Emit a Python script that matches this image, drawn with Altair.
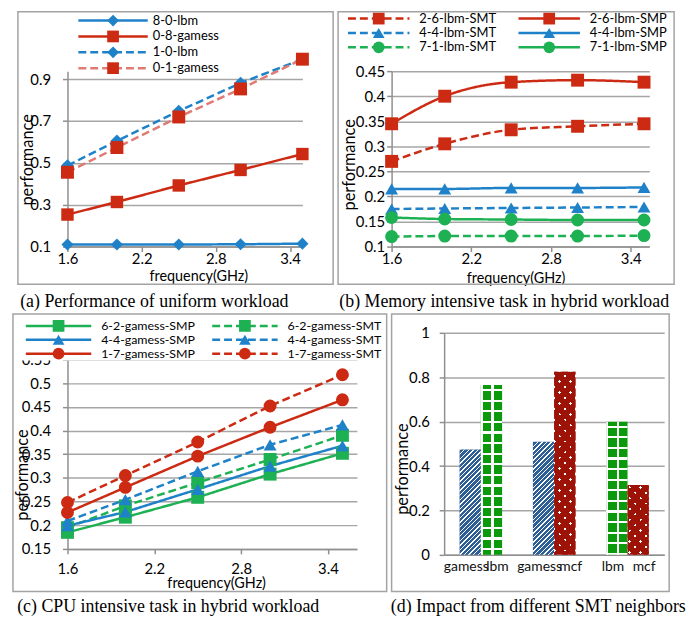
import math
import altair as alt
import pandas as pd

FONT = "Lato"
SERIF = "Liberation Serif"
GRID_C = "#a6a6a6"
AXIS_C = "#8f8f8f"
FRAME_C = "#a3a3a3"
BLUE = "#1f82c9"
RED = "#cc2a12"
PINK = "#e07b74"
GREEN = "#1eb153"
BAR_BLUE = "#2d5e96"
BAR_GREEN = "#0b9a0b"
BAR_RED = "#9e1308"
CLEAR = "rgba(255,255,255,0)"
SOLID = [1, 0]
DASH = [8, 4]

freq = [1.6, 2.0, 2.5, 3.0, 3.5]
freq_ticks = [1.6, 2.2, 2.8, 3.4]

# ---------------- (a) uniform workload ----------------
a_names = ["8-0-lbm", "0-8-gamess", "1-0-lbm", "0-1-gamess"]
a_8_0_lbm = [0.110, 0.110, 0.110, 0.111, 0.114]
a_0_8_gamess = [0.253, 0.313, 0.392, 0.466, 0.542]
a_1_0_lbm = [0.487, 0.605, 0.747, 0.881, 0.995]
a_0_1_gamess = [0.455, 0.573, 0.719, 0.853, 0.995]
a_yticks = [0.1, 0.3, 0.5, 0.7, 0.9]
a_leg_col = [0, 0, 0, 0]
a_leg_row = [0, 1, 2, 3]

# ---------------- (b) memory intensive task ----------------
b_names = ["2-6-lbm-SMT", "2-6-lbm-SMP", "4-4-lbm-SMT", "4-4-lbm-SMP", "7-1-lbm-SMT", "7-1-lbm-SMP"]
b_2_6_smt = [0.270, 0.305, 0.333, 0.340, 0.345]
b_2_6_smp = [0.345, 0.400, 0.428, 0.432, 0.428]
b_4_4_smt = [0.175, 0.176, 0.177, 0.178, 0.179]
b_4_4_smp = [0.215, 0.215, 0.217, 0.217, 0.218]
b_7_1_smt = [0.120, 0.121, 0.121, 0.121, 0.122]
b_7_1_smp = [0.158, 0.155, 0.154, 0.153, 0.153]
b_yticks = [0.1, 0.15, 0.2, 0.25, 0.3, 0.35, 0.4, 0.45]
b_leg_col = [0, 1, 0, 1, 0, 1]
b_leg_row = [0, 0, 1, 1, 2, 2]

# ---------------- (c) CPU intensive task ----------------
c_names = ["6-2-gamess-SMP", "6-2-gamess-SMT", "4-4-gamess-SMP", "4-4-gamess-SMT", "1-7-gamess-SMP", "1-7-gamess-SMT"]
c_6_2_smp = [0.185, 0.217, 0.259, 0.308, 0.352]
c_6_2_smt = [0.195, 0.241, 0.290, 0.339, 0.390]
c_4_4_smp = [0.199, 0.228, 0.276, 0.325, 0.368]
c_4_4_smt = [0.209, 0.254, 0.314, 0.370, 0.412]
c_1_7_smp = [0.227, 0.280, 0.346, 0.407, 0.465]
c_1_7_smt = [0.248, 0.305, 0.376, 0.452, 0.518]
c_yticks = [0.15, 0.2, 0.25, 0.3, 0.35, 0.4, 0.45, 0.5, 0.55]
c_leg_col = [0, 1, 0, 1, 0, 1]
c_leg_row = [0, 0, 1, 1, 2, 2]

# ---------------- (d) SMT neighbours ----------------
d_groups = ["g1", "g1", "g2", "g2", "g3", "g3"]
d_slots = ["0", "1", "0", "1", "0", "1"]
d_labels = ["gamess", "lbm", "gamess", "mcf", "lbm", "mcf"]
d_values = [0.475, 0.765, 0.510, 0.825, 0.600, 0.315]
d_yticks = [0, 0.2, 0.4, 0.6, 0.8, 1.0]

INDEP = dict(stroke="independent", fill="independent", shape="independent",
             strokeDash="independent", size="independent")


def series_df(names, vals):
    rows = []
    for n, vs in zip(names, vals):
        for f, v in zip(freq, vs):
            rows.append({"series": n, "freq": f, "perf": v})
    return pd.DataFrame(rows)


def one_row():
    return pd.DataFrame({"k": [0]})


def frame_layer(x1, x2, y1, y2):
    return alt.Chart(one_row()).mark_rect(
        fill="white", fillOpacity=0, stroke=FRAME_C, strokeWidth=1.5
    ).encode(x=alt.value(x1), x2=alt.value(x2), y=alt.value(y1), y2=alt.value(y2))


def caption(text, dx, offset):
    return alt.TitleParams(
        text=text, orient="bottom", anchor="start", frame="bounds", dx=dx, offset=offset,
        font=SERIF, fontSize=18, fontWeight="normal", color="black",
    )


def line_panel(names, vals, strokes, fills, dashes, shapes, sizes, W, H, xdom, ydom,
               yticks, yfmt, ylabpad, xlabpad, xtitle, ytitle, leg_col, leg_row,
               leg_xr, leg_yr, leg_len, leg_dx, leg_fs, frame, cap, cap_dx, cap_off,
               interp="linear", leg_bg=None):
    df = series_df(names, vals)
    x_enc = alt.X(
        "freq:Q", scale=alt.Scale(domain=xdom, nice=False, zero=False),
        axis=alt.Axis(values=freq_ticks, format=".1f", grid=False, labelFlush=False,
                      labelPadding=xlabpad, labelBaseline="middle", labelFontSize=15,
                      title="frequency(GHz)", titleX=xtitle[0], titleY=xtitle[1],
                      titleBaseline="middle", titleAlign="center", titleFontSize=14.5),
    )
    y_enc = alt.Y(
        "perf:Q", scale=alt.Scale(domain=ydom, nice=False, zero=False),
        axis=alt.Axis(values=yticks, format=yfmt, grid=True, labelFlush=False,
                      labelPadding=ylabpad, labelFontSize=15,
                      title="performance", titleX=ytitle[0], titleY=ytitle[1],
                      titleAngle=270, titleBaseline="middle", titleAlign="center",
                      titleFontSize=16.5),
    )
    stroke_s = alt.Scale(domain=names, range=strokes)
    fill_s = alt.Scale(domain=names, range=fills)
    dash_s = alt.Scale(domain=names, range=dashes)
    shape_s = alt.Scale(domain=names, range=shapes)
    size_s = alt.Scale(domain=names, range=sizes)

    lines = alt.Chart(df).mark_line(strokeWidth=2.5, interpolate=interp).encode(
        x=x_enc, y=y_enc,
        stroke=alt.Stroke("series:N", scale=stroke_s, legend=None),
        strokeDash=alt.StrokeDash("series:N", scale=dash_s, legend=None),
    )
    points = alt.Chart(df).mark_point(filled=True, opacity=1, strokeWidth=0).encode(
        x=x_enc, y=y_enc,
        fill=alt.Fill("series:N", scale=fill_s, legend=None),
        shape=alt.Shape("series:N", scale=shape_s, legend=None),
        size=alt.Size("series:N", scale=size_s, legend=None),
    )
    data_layer = alt.layer(lines, points)

    leg_df = pd.DataFrame({"series": names, "col": leg_col, "row": leg_row})
    nrow = max(leg_row)
    lx = alt.X("col:Q", scale=alt.Scale(domain=[0, 1], range=leg_xr, nice=False, zero=False), axis=None)
    ly = alt.Y("row:Q", scale=alt.Scale(domain=[0, nrow], range=leg_yr, nice=False, zero=False), axis=None)
    l_rule = alt.Chart(leg_df).mark_rule(strokeWidth=2.5, x2Offset=leg_len).encode(
        x=lx, x2=alt.X2("col:Q"), y=ly,
        stroke=alt.Stroke("series:N", scale=stroke_s, legend=None),
        strokeDash=alt.StrokeDash("series:N", scale=dash_s, legend=None),
    )
    l_pt = alt.Chart(leg_df).mark_point(filled=True, opacity=1, strokeWidth=0, size=140,
                                        xOffset=leg_len / 2).encode(
        x=lx, y=ly,
        fill=alt.Fill("series:N", scale=fill_s, legend=None),
        shape=alt.Shape("series:N", scale=shape_s, legend=None),
    )
    l_txt = alt.Chart(leg_df).mark_text(align="left", baseline="middle", dx=leg_dx,
                                        font=FONT, fontSize=leg_fs, color="black").encode(
        x=lx, y=ly, text="series:N",
    )
    legend_layer = alt.layer(l_rule, l_pt, l_txt)

    parts = [frame_layer(*frame), data_layer]
    if leg_bg is not None:
        parts.append(
            alt.Chart(one_row()).mark_rect(fill="white", strokeWidth=0).encode(
                x=alt.value(leg_bg[0]), x2=alt.value(leg_bg[1]),
                y=alt.value(leg_bg[2]), y2=alt.value(leg_bg[3]))
        )
    parts.append(legend_layer)
    return alt.layer(*parts).resolve_scale(x="independent", y="independent").properties(
        width=W, height=H, title=caption(cap, cap_dx, cap_off)
    )


# row 1 shares a plot-area top (y=68 on the page); row 2 shares y=329
A = line_panel(
    a_names, [a_8_0_lbm, a_0_8_gamess, a_1_0_lbm, a_0_1_gamess],
    [BLUE, RED, BLUE, PINK], [BLUE, RED, BLUE, RED], [SOLID, SOLID, DASH, DASH],
    ["diamond", "square", "diamond", "square"], [150, 170, 150, 170],
    237, 177, [1.6, 3.5], [0.1, 0.9 + 8 / 211.25], a_yticks, ".1f", 12, 7, (132, 30), (-40, 89),
    a_leg_col, a_leg_row, [11, 200], [-51, -3], 70, 75, 13,
    (-50, 268, -60, 215), "(a) Performance of uniform workload", 3, 8,
)

B = line_panel(
    b_names, [b_2_6_smt, b_2_6_smp, b_4_4_smt, b_4_4_smp, b_7_1_smt, b_7_1_smp],
    [RED, RED, BLUE, BLUE, GREEN, GREEN], [RED, RED, BLUE, BLUE, GREEN, GREEN],
    [DASH, SOLID, DASH, SOLID, DASH, SOLID],
    ["square", "square", "triangle-up", "triangle-up", "circle", "circle"],
    [170, 170, 170, 170, 200, 200],
    260, 177, [1.6, 3.54], [0.1, 0.45], b_yticks, ".2~f", 2, 7, (125, 32), (-42, 94),
    b_leg_col, b_leg_row, [-44, 128], [-53, -24], 62, 72, 13,
    (-54, 285, -60, 215), "(b) Memory intensive task in hybrid workload", 2, 8,
    interp="monotone",
)

C = line_panel(
    c_names, [c_6_2_smp, c_6_2_smt, c_4_4_smp, c_4_4_smt, c_1_7_smp, c_1_7_smt],
    [GREEN, GREEN, BLUE, BLUE, RED, RED], [GREEN, GREEN, BLUE, BLUE, RED, RED],
    [SOLID, DASH, SOLID, DASH, SOLID, DASH],
    ["square", "square", "triangle-up", "triangle-up", "circle", "circle"],
    [170, 170, 170, 170, 200, 200],
    292, 218, [1.6, 3.6], [0.15, 0.15 + 218 / 477.5], c_yticks, ".2~f", 12, 15, (150, 35), (-45, 143),
    c_leg_col, c_leg_row, [-42, 146], [-7, 21], 66, 76, 12.5,
    (-55, 322, -19, 261), "(c) CPU intensive task in hybrid workload", 5, 6,
    leg_bg=(-53, 320, -18, 28),
)

# ---------------- (d) patterned bars ----------------
W_D, H_D = 222, 224
PI, PO = 0.42, 0.21
step = W_D / (3 - PI + 2 * PO)
bar_w = step * (1 - PI) / 2

d_df = pd.DataFrame({"idx": list(range(6)), "grp": d_groups, "slot": d_slots,
                     "label": d_labels, "value": d_values})

x_d = alt.X("grp:N", scale=alt.Scale(domain=["g1", "g2", "g3"], paddingInner=PI, paddingOuter=PO),
            axis=alt.Axis(labels=False, ticks=False, title=None, grid=False))
xo_d = alt.XOffset("slot:N", scale=alt.Scale(domain=["0", "1"], paddingInner=0, paddingOuter=0))
y_d = alt.Y("value:Q", scale=alt.Scale(domain=[0, 1], nice=False),
            axis=alt.Axis(values=d_yticks, format="~g", grid=True, labelPadding=10, labelFontSize=15,
                          title="performance", titleX=-42, titleY=137, titleAngle=270,
                          titleBaseline="middle", titleAlign="center", titleFontSize=16.5))


def stripe_stops(total, period, gap, main, gapc, phase=0.0):
    stops = [(0.0, main)]
    k = math.floor((-phase - gap) / period)
    while True:
        a = phase + k * period
        b = a + gap
        if a >= total:
            break
        if b > 0:
            a0 = max(a, 0.0) / total
            b0 = min(b, total) / total
            stops += [(a0, main), (a0, gapc), (b0, gapc), (b0, main)]
        k += 1
    stops.append((1.0, main))
    return [alt.GradientStop(offset=round(o, 5), color=c) for o, c in stops]


def diag_grad(w, h, direction, period, gap, main, gapc, phase=0.0):
    s = (w + h) / (w * w + h * h)
    a, b = w * s, h * s
    stops = stripe_stops(w + h, period, gap, main, gapc, phase)
    if direction == "/":
        return alt.LinearGradient(gradient="linear", stops=stops, x1=0, y1=0, x2=a, y2=b)
    return alt.LinearGradient(gradient="linear", stops=stops, x1=0, y1=1, x2=a, y2=1 - b)


def axis_grad(total, period, gap, main, gapc, horizontal, phase=0.0):
    stops = stripe_stops(total, period, gap, main, gapc, phase)
    if horizontal:
        return alt.LinearGradient(gradient="linear", stops=stops, x1=0, y1=0, x2=1, y2=0)
    return alt.LinearGradient(gradient="linear", stops=stops, x1=0, y1=0, x2=0, y2=1)


base_bars = alt.Chart(d_df).mark_bar(strokeWidth=0).encode(
    x=x_d, xOffset=xo_d, y=y_d,
    fill=alt.Fill("label:N", scale=alt.Scale(domain=["gamess", "lbm", "mcf"],
                                             range=[BAR_BLUE, BAR_GREEN, "white"]), legend=None),
)

overlays = []
for i, (lab, v) in enumerate(zip(d_labels, d_values)):
    h = v * H_D
    w = bar_w
    grads = []
    if lab == "gamess":
        grads.append(diag_grad(w, h, "/", 4.6, 1.4, CLEAR, "white"))
    elif lab == "lbm":
        grads.append(axis_grad(w, w / 2, 2.2, CLEAR, "white", True))
        grads.append(axis_grad(h, 10.7, 2.2, CLEAR, "white", False, phase=4))
    else:
        grads.append(diag_grad(w, h, "/", 11, 2.8, BAR_RED, CLEAR, phase=3))
        grads.append(diag_grad(w, h, "\\", 11, 2.8, BAR_RED, CLEAR, phase=3))
    for g in grads:
        overlays.append(
            alt.Chart(d_df).transform_filter(alt.datum.idx == i).mark_bar(
                fill=g, strokeWidth=0).encode(x=x_d, xOffset=xo_d, y=y_d)
        )

texts = []
for slot, dx in (("0", -4), ("1", 6)):
    texts.append(
        alt.Chart(d_df).transform_filter(alt.datum.slot == slot).transform_calculate(value="0")
        .mark_text(font=FONT, fontSize=14, baseline="middle", dy=12, dx=dx, color="#111")
        .encode(x=x_d, xOffset=xo_d, y=y_d, text="label:N")
    )

D = alt.layer(frame_layer(-53, 227, -19, 261), base_bars, *overlays, *texts).properties(
    width=W_D, height=H_D, title=caption("(d) Impact from different SMT neighbors", 0, 6)
)

row1 = alt.hconcat(A, B, spacing=3).resolve_scale(**INDEP)
row2 = alt.hconcat(C, D, spacing=3).resolve_scale(**INDEP)

chart = alt.vconcat(row1, row2, spacing=2, padding={"left": 4, "top": 0, "right": 0, "bottom": 0}
                    ).resolve_scale(**INDEP).configure_view(stroke=None).configure_axis(
    labelFont=FONT, titleFont=FONT, labelColor="#000", titleColor="#000",
    titleFontWeight="normal", domainColor=AXIS_C, domainWidth=1.5, tickColor=AXIS_C,
    tickWidth=1.5, tickSize=5, gridColor=GRID_C, gridWidth=1.5, labelOverlap=False,
)

chart.save("out.html", embed_options={"renderer": "svg", "actions": False})
